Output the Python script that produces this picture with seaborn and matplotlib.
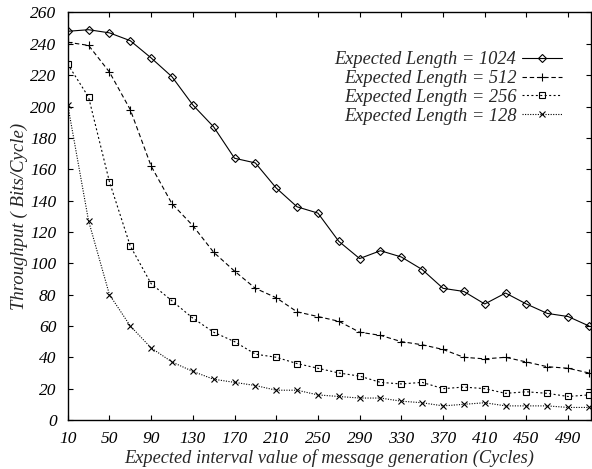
import matplotlib
matplotlib.use("Agg")
import matplotlib.pyplot as plt
import pandas as pd
import seaborn as sns

# interval values (cycles)
intervals = list(range(10, 511, 20))

len_1024 = [248, 249, 247, 242, 231, 219, 201, 187, 167, 164, 148, 136, 132,
            114, 103, 108, 104, 96, 84, 82, 74, 81, 74, 68, 66, 60]
len_512 = [241, 239, 222, 198, 162, 138, 124, 107, 95, 84, 78, 69, 66,
           63, 56, 54, 50, 48, 45, 40, 39, 40, 37, 34, 33, 30]
len_256 = [227, 206, 152, 111, 87, 76, 65, 56, 50, 42, 40, 36, 33,
           30, 28, 24, 23, 24, 20, 21, 20, 17, 18, 17, 15, 16]
len_128 = [201, 127, 80, 60, 46, 37, 31, 26, 24, 22, 19, 19, 16,
           15, 14, 14, 12, 11, 9, 10, 11, 9, 9, 9, 8, 8]

labels = ["Expected Length = 1024", "Expected Length = 512",
          "Expected Length = 256", "Expected Length = 128"]
x_ticks = list(range(10, 491, 40))
y_ticks = list(range(0, 261, 20))

df = pd.concat([
    pd.DataFrame({"interval": intervals, "throughput": vals, "series": lab})
    for lab, vals in zip(labels, [len_1024, len_512, len_256, len_128])
])

sns.set_style("ticks")
plt.rcParams["font.family"] = ["Liberation Serif", "DejaVu Serif"]
plt.rcParams["font.style"] = "italic"

fs = 12.5
fig = plt.figure(figsize=(5.92, 4.69), dpi=100)
ax = fig.add_axes([0.1144, 0.1045, 0.884, 0.8689])

dashes = dict(zip(labels, ["", (4, 2.5), (1.8, 2.2), (1, 1.3)]))
# seaborn won't mix filled and line-art markers, so set them afterwards
marker_list = ["D", "+", "s", "x"]
msizes = [4.5, 5.5, 4, 4.5]

sns.lineplot(data=df, x="interval", y="throughput", style="series",
             style_order=labels, markers=False, dashes=dashes,
             color="black", lw=0.8, legend=False, ax=ax)

for line, m, ms in zip(ax.lines, marker_list, msizes):
    line.set_marker(m)
    line.set_markersize(ms)
    line.set_markeredgecolor("black")
    line.set_markerfacecolor("none")
    line.set_markeredgewidth(0.8)

ax.set_xlim(10, 512)
ax.set_ylim(0, 260)
ax.set_xticks(x_ticks)
ax.set_yticks(y_ticks)
ax.tick_params(direction="in", length=3.6, width=0.8, top=True, right=True,
               labelsize=fs, colors="black")
ax.tick_params(axis="x", pad=8)
ax.tick_params(axis="y", pad=8)
for s in ax.spines.values():
    s.set_visible(True)
    s.set_linewidth(1.0)
    s.set_color("black")

ax.set_xlabel("Expected interval value of message generation (Cycles)",
              fontsize=13.25, labelpad=1.5)
ax.set_ylabel("Throughput ( Bits/Cycle)", fontsize=13.5, labelpad=2)

ax.legend(ax.lines, labels, loc="upper right", bbox_to_anchor=(0.945, 0.905),
          frameon=False, markerfirst=False, numpoints=1, fontsize=13.2,
          handlelength=2.2, handletextpad=0.3, labelspacing=0.1,
          borderpad=0, borderaxespad=0)

fig.savefig("out.png", dpi=100)
